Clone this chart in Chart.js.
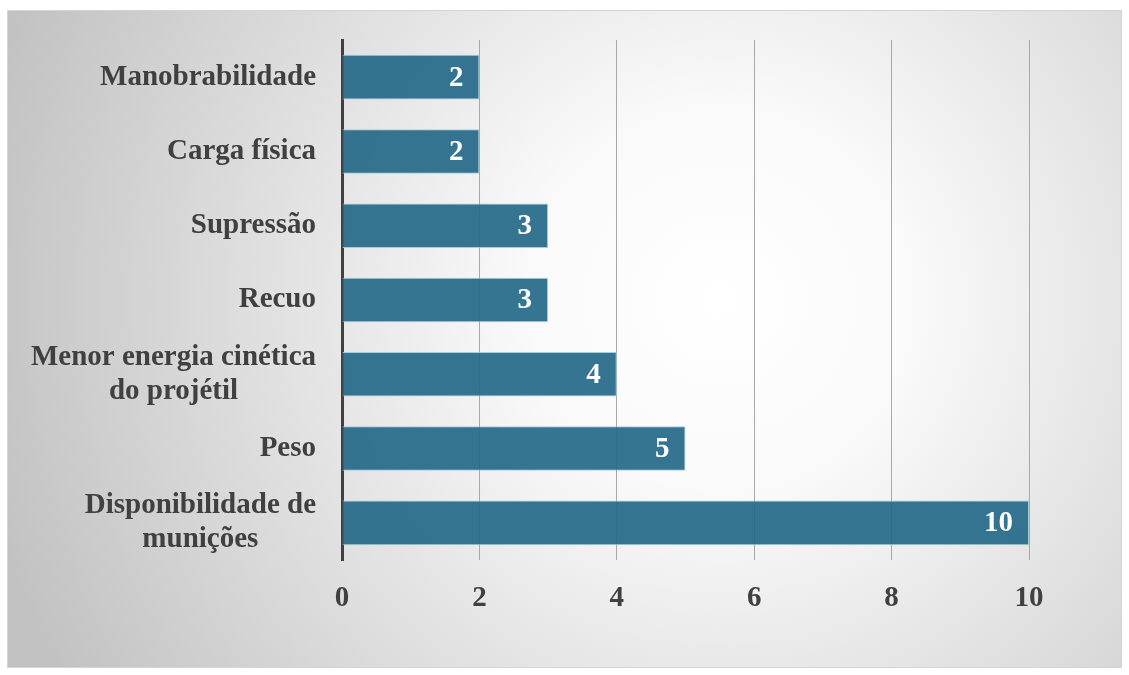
<!DOCTYPE html>
<html>
<head>
<meta charset="utf-8">
<script src="https://cdn.jsdelivr.net/npm/chart.js@4"></script>
<style>
html,body{margin:0;padding:0;background:#fff;}
#wrap{position:absolute;left:0;top:0;width:1129px;height:675px;}
</style>
</head>
<body>
<div id="wrap"><canvas id="c" width="1129" height="675"></canvas></div>
<script>
const categories = [
  ["Manobrabilidade"],
  ["Carga física"],
  ["Supressão"],
  ["Recuo"],
  ["Menor energia cinética", "do projétil"],
  ["Peso"],
  ["Disponibilidade de", "munições"]
];
const values = [2, 2, 3, 3, 4, 5, 10];
const xTicks = [0, 2, 4, 6, 8, 10];

const FONT = '"Liberation Serif", "Times New Roman", serif';
const TEXT = '#404040';

const bgPlugin = {
  id: 'bg',
  beforeDraw(chart) {
    const ctx = chart.ctx;
    ctx.save();
    ctx.fillStyle = '#ffffff';
    ctx.fillRect(0, 0, chart.width, chart.height);
    const x0 = 7, y0 = 10, w = 1115, h = 658;
    const g = ctx.createRadialGradient(720, 300, 0, 720, 300, 760);
    g.addColorStop(0, '#ffffff');
    g.addColorStop(0.25, '#fafafa');
    g.addColorStop(1, '#c2c2c2');
    ctx.fillStyle = g;
    ctx.fillRect(x0, y0, w, h);
    ctx.strokeStyle = '#d4d4d4';
    ctx.lineWidth = 1;
    ctx.strokeRect(x0 + 0.5, y0 + 0.5, w - 1, h - 1);
    ctx.restore();
  }
};

const labelPlugin = {
  id: 'labels',
  afterDraw(chart) {
    const ctx = chart.ctx;
    const ys = chart.scales.y;
    ctx.save();
    ctx.font = 'bold 29px ' + FONT;
    ctx.fillStyle = TEXT;
    ctx.textBaseline = 'middle';
    ctx.textAlign = 'center';
    const right = chart.chartArea.left - 26;
    const lh = 34;
    categories.forEach((lines, i) => {
      const cy = ys.getPixelForTick(i);
      const bw = Math.max(...lines.map(l => ctx.measureText(l).width));
      const cx = right - bw / 2;
      const start = cy - (lines.length - 1) * lh / 2;
      lines.forEach((l, j) => ctx.fillText(l, cx, start + j * lh));
    });
    // value labels
    const meta = chart.getDatasetMeta(0);
    ctx.fillStyle = '#ffffff';
    ctx.textAlign = 'right';
    meta.data.forEach((bar, i) => {
      ctx.fillText(String(values[i]), bar.x - 16, bar.y + 1);
    });
    ctx.restore();
  }
};

new Chart(document.getElementById('c'), {
  type: 'bar',
  data: {
    labels: categories,
    datasets: [{
      data: values,
      backgroundColor: 'rgba(36,105,136,0.92)',
      borderColor: 'rgba(160,200,215,0.9)',
      borderWidth: 1,
      barPercentage: 0.6,
      categoryPercentage: 1
    }]
  },
  options: {
    indexAxis: 'y',
    responsive: false,
    animation: false,
    devicePixelRatio: 1,
    layout: { padding: { left: 0, top: 40, right: 100, bottom: 0 } },
    plugins: { legend: { display: false }, tooltip: { enabled: false } },
    scales: {
      x: {
        min: 0, max: 10,
        afterFit(s) { s.height = 115; },
        afterBuildTicks(s) { s.ticks = xTicks.map(v => ({ value: v })); },
        grid: {
          color: (c) => c.tick && c.tick.value === 0 ? 'rgba(0,0,0,0)' : '#a8a8a8',
          lineWidth: 1,
          drawTicks: false
        },
        border: { display: false },
        ticks: {
          color: TEXT,
          padding: 21,
          font: { family: FONT, size: 29, weight: 'bold' }
        }
      },
      y: {
        afterFit(s) { s.width = 342; },
        grid: { display: false, drawTicks: false },
        border: { display: true, color: '#404040', width: 3 },
        ticks: { display: false }
      }
    }
  },
  plugins: [bgPlugin, labelPlugin]
});
</script>
</body>
</html>
